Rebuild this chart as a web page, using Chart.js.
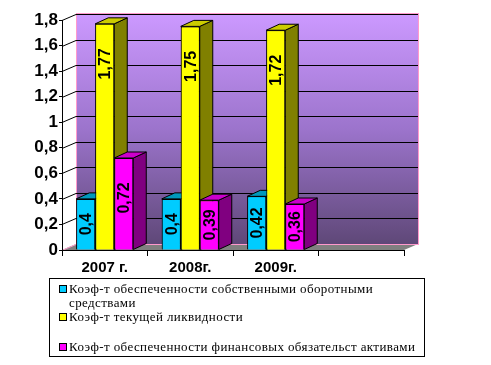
<!DOCTYPE html>
<html>
<head>
<meta charset="utf-8">
<script src="https://cdn.jsdelivr.net/npm/chart.js@4.4.0/dist/chart.umd.min.js"></script>
<style>
  body { margin: 0; background: #fff; }
  #wrap { position: relative; width: 491px; height: 365px; }
  #legend {
    position: absolute; left: 49px; top: 278px; width: 374px; height: 77px;
    border: 1px solid #000; font: 13px "Liberation Serif", serif; color: #000;
    letter-spacing: 0.4px;
  }
  .item { position: absolute; left: 8px; width: 364px; line-height: 14px; }
  .item i {
    position: absolute; left: 1px; top: 3px; width: 6px; height: 6px;
    border: 1px solid #000;
  }
  .item span { display: block; margin-left: 11px; }
</style>
</head>
<body>
<div id="wrap">
  <canvas id="c" width="491" height="365"></canvas>
  <div id="legend"></div>
</div>
<script>
const years = ['2007 г.', '2008г.', '2009г.', ''];
const ownFunds = [0.4, 0.4, 0.42, null];
const liquidity = [1.77, 1.75, 1.72, null];
const finLiab = [0.72, 0.39, 0.36, null];
const names = [
  'Коэф-т обеспеченности собственными оборотными средствами',
  'Коэф-т текущей ликвидности',
  'Коэф-т обеспеченности финансовых обязательст активами'
];
const fronts = ['#00ccff', '#ffff00', '#ff00ff'];
const tops = ['#0099bb', '#cccc00', '#cc00cc'];
const sides = ['#007799', '#808000', '#800080'];

// смещение глубины
const WX = 14, WY = -6;
const BX = 13, BY = -6;

const px = v => Math.round(v) + 0.5;

const wallPlugin = {
  id: 'wall',
  beforeDraw(chart) {
    const { ctx, chartArea: a, scales } = chart;
    const ys = scales.y;
    ctx.save();
    const g = ctx.createLinearGradient(0, a.top + WY, 0, a.bottom + WY);
    g.addColorStop(0, '#cc99ff');
    g.addColorStop(0.5, '#9c74cc');
    g.addColorStop(1, '#5f4878');
    ctx.fillStyle = g;
    ctx.fillRect(a.left + WX, a.top + WY, a.right - a.left, a.bottom - a.top);

    // пол
    ctx.fillStyle = '#808080';
    ctx.beginPath();
    ctx.moveTo(a.left, a.bottom);
    ctx.lineTo(a.right, a.bottom);
    ctx.lineTo(a.right + WX, a.bottom + WY);
    ctx.lineTo(a.left + WX, a.bottom + WY);
    ctx.closePath();
    ctx.fill();

    // рамка стенки
    ctx.strokeStyle = '#ff99cc';
    ctx.lineWidth = 1;
    ctx.strokeRect(px(a.left + WX), px(a.top + WY) - 1, Math.round(a.right - a.left), Math.round(a.bottom - a.top) + 1);
    ctx.beginPath();
    ctx.moveTo(a.left, px(a.bottom));
    ctx.lineTo(a.left + WX, px(a.bottom + WY));
    ctx.stroke();

    // линии сетки
    ctx.strokeStyle = '#000';
    ys.ticks.forEach(t => {
      if (t.value === 0) return;
      const y = ys.getPixelForValue(t.value);
      ctx.beginPath();
      ctx.moveTo(a.left, px(y));
      ctx.lineTo(a.left + WX, px(y + WY));
      ctx.lineTo(a.right + WX, px(y + WY));
      ctx.stroke();
    });
    ctx.restore();
  }
};

const barsPlugin = {
  id: 'bars3d',
  afterDatasetsDraw(chart) {
    const { ctx } = chart;
    const metas = chart.data.datasets.map((d, i) => chart.getDatasetMeta(i));
    ctx.save();
    ctx.strokeStyle = '#000';
    ctx.lineWidth = 1;
    ctx.lineJoin = 'round';
    years.forEach((y, i) => {
      metas.forEach((m, d) => {
        const bar = m.data[i];
        if (!bar || chart.data.datasets[d].data[i] == null) return;
        const l = bar.x - bar.width / 2, r = bar.x + bar.width / 2;
        const top = bar.y, base = bar.base;
        ctx.fillStyle = sides[d];
        ctx.beginPath();
        ctx.moveTo(r, top);
        ctx.lineTo(r + BX, top + BY);
        ctx.lineTo(r + BX, base + BY);
        ctx.lineTo(r, base);
        ctx.closePath();
        ctx.fill(); ctx.stroke();
        ctx.fillStyle = tops[d];
        ctx.beginPath();
        ctx.moveTo(l, top);
        ctx.lineTo(l + BX, top + BY);
        ctx.lineTo(r + BX, top + BY);
        ctx.lineTo(r, top);
        ctx.closePath();
        ctx.fill(); ctx.stroke();
        bar.draw(ctx);
      });
    });
    // подписи значений
    ctx.fillStyle = '#000';
    ctx.font = 'bold 16px "Liberation Sans", Arial, sans-serif';
    ctx.textAlign = 'center';
    ctx.textBaseline = 'middle';
    metas.forEach((m, d) => {
      m.data.forEach((bar, i) => {
        const v = chart.data.datasets[d].data[i];
        if (v == null) return;
        const cy = Math.min(bar.y + 40, (bar.y + bar.base) / 2);
        ctx.save();
        ctx.translate(bar.x, cy);
        ctx.rotate(-Math.PI / 2);
        ctx.fillText(String(v).replace('.', ','), 0, 1);
        ctx.restore();
      });
    });
    ctx.restore();
  }
};

new Chart(document.getElementById('c'), {
  type: 'bar',
  data: {
    labels: years,
    datasets: [ownFunds, liquidity, finLiab].map((data, i) => ({
      label: names[i],
      data: data,
      backgroundColor: fronts[i],
      borderColor: '#000',
      borderWidth: 1,
      barPercentage: 1,
      categoryPercentage: 0.667
    }))
  },
  options: {
    responsive: false,
    animation: false,
    layout: { padding: { top: 20, right: 87, left: 0, bottom: 0 } },
    plugins: { legend: { display: false }, tooltip: { enabled: false } },
    scales: {
      x: {
        offset: true,
        grid: { drawOnChartArea: false, tickLength: 6, color: '#000', offset: true },
        border: { color: '#000' },
        ticks: { color: '#000', padding: 3, maxRotation: 0, font: { family: '"Liberation Sans", Arial', size: 15, weight: 'bold' } },
        afterFit(s) { s.height = 115; }
      },
      y: {
        min: 0, max: 1.8,
        grid: { drawOnChartArea: false, tickLength: 3, color: '#000' },
        border: { color: '#000' },
        ticks: {
          stepSize: 0.2, color: '#000', padding: 1,
          font: { family: '"Liberation Sans", Arial', size: 17, weight: 'bold' },
          callback: v => String(Math.round(v * 10) / 10).replace('.', ',')
        },
        afterFit(s) { s.width = 62; }
      }
    }
  },
  plugins: [wallPlugin, barsPlugin]
});

// легенда
const itemTops = [3, 31, 61];
const legend = document.getElementById('legend');
names.forEach((n, i) => {
  const el = document.createElement('div');
  el.className = 'item';
  el.style.top = itemTops[i] + 'px';
  el.innerHTML = '<i style="background:' + fronts[i] + '"></i><span>' + n + '</span>';
  legend.appendChild(el);
});
</script>
</body>
</html>
